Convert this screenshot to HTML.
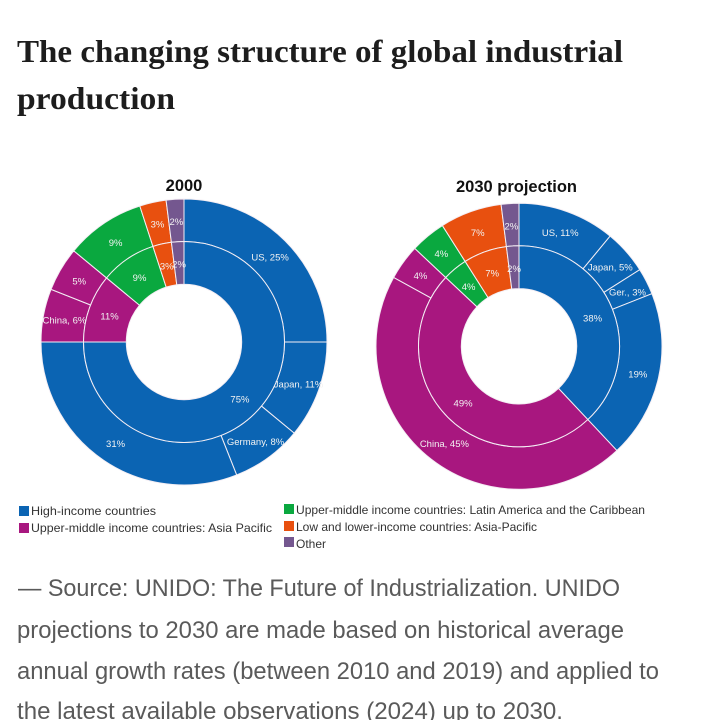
<!DOCTYPE html>
<html lang="en">
<head>
<meta charset="utf-8">
<title>The changing structure of global industrial production</title>
<style>
html,body{margin:0;padding:0;background:#fff;}
body{width:705px;height:720px;overflow:hidden;position:relative;}
svg{position:absolute;left:0;top:0;}
.title{font-family:"Liberation Serif",serif;font-weight:700;font-size:32px;fill:#1d1d1d;}
.chart-title{font-family:"Liberation Sans",sans-serif;font-weight:700;font-size:16.5px;fill:#111;text-anchor:middle;}
.slice-label{font-family:"Liberation Sans",sans-serif;font-size:9.5px;fill:#f2f2f2;text-anchor:middle;}
.legend-text{font-family:"Liberation Sans",sans-serif;font-size:12px;fill:#333;}
.source{font-family:"Liberation Sans",sans-serif;font-size:24px;fill:#5a5a5a;}
</style>
</head>
<body>
<svg id="canvas" width="705" height="720" viewBox="0 0 705 720">
  <text class="title" x="17" y="62" textLength="606" lengthAdjust="spacingAndGlyphs">The changing structure of global industrial</text>
  <text class="title" x="17" y="109" textLength="158" lengthAdjust="spacingAndGlyphs">production</text>

  <text class="chart-title" x="184" y="191">2000</text>
  <text class="chart-title" x="516.5" y="192">2030 projection</text>

  <g id="donut-2000"></g>
  <g id="donut-2030"></g>

  <g>
    <rect x="19" y="506" width="10" height="10" fill="#0b64b3"/>
    <text class="legend-text" x="31" y="515" textLength="125" lengthAdjust="spacingAndGlyphs">High-income countries</text>
    <rect x="19" y="523" width="10" height="10" fill="#a8177f"/>
    <text class="legend-text" x="31" y="532" textLength="241" lengthAdjust="spacingAndGlyphs">Upper-middle income countries: Asia Pacific</text>
    <rect x="284" y="504" width="10" height="10" fill="#0aa83f"/>
    <text class="legend-text" x="296" y="514" textLength="349" lengthAdjust="spacingAndGlyphs">Upper-middle income countries: Latin America and the Caribbean</text>
    <rect x="284" y="521" width="10" height="10" fill="#e8500f"/>
    <text class="legend-text" x="296" y="531" textLength="241" lengthAdjust="spacingAndGlyphs">Low and lower-income countries: Asia-Pacific</text>
    <rect x="284" y="537" width="10" height="10" fill="#74578f"/>
    <text class="legend-text" x="296" y="548" textLength="30" lengthAdjust="spacingAndGlyphs">Other</text>
  </g>

  <g>
    <text class="source" x="18" y="596" textLength="602" lengthAdjust="spacingAndGlyphs">— Source: UNIDO: The Future of Industrialization. UNIDO</text>
    <text class="source" x="17" y="638" textLength="607" lengthAdjust="spacingAndGlyphs">projections to 2030 are made based on historical average</text>
    <text class="source" x="17" y="679" textLength="642" lengthAdjust="spacingAndGlyphs">annual growth rates (between 2010 and 2019) and applied to</text>
    <text class="source" x="17" y="719" textLength="546" lengthAdjust="spacingAndGlyphs">the latest available observations (2024) up to 2030.</text>
  </g>
</svg>
<script>
// Data for the 2000 chart
const outerNames2000 = ['US', 'Japan', 'Germany', '', 'China', '', '', '', ''];
const outerValues2000 = [25, 11, 8, 31, 6, 5, 9, 3, 2];
const outerGroups2000 = ['high', 'high', 'high', 'high', 'asia', 'asia', 'latam', 'low', 'other'];
const innerValues2000 = [75, 11, 9, 3, 2];
const innerGroups2000 = ['high', 'asia', 'latam', 'low', 'other'];

// Data for the 2030 projection chart
const outerNames2030 = ['US', 'Japan', 'Ger.', '', 'China', '', '', '', ''];
const outerValues2030 = [11, 5, 3, 19, 45, 4, 4, 7, 2];
const outerGroups2030 = ['high', 'high', 'high', 'high', 'asia', 'asia', 'latam', 'low', 'other'];
const innerValues2030 = [38, 49, 4, 7, 2];
const innerGroups2030 = ['high', 'asia', 'latam', 'low', 'other'];

const groupColors = {high: '#0b64b3', asia: '#a8177f', latam: '#0aa83f', low: '#e8500f', other: '#74578f'};
const SVG_NS = 'http://www.w3.org/2000/svg';
const R_HOLE = 57.7;
const R_MID = 100.5;
const R_OUTER = 143;

function angleScale(share, total) {
  return (share / total) * 2 * Math.PI;
}
function polar(cx, cy, r, a) {
  return [cx + r * Math.sin(a), cy - r * Math.cos(a)];
}
function wedgePath(cx, cy, r0, r1, a0, a1) {
  const large = a1 - a0 > Math.PI ? 1 : 0;
  const p0 = polar(cx, cy, r1, a0);
  const p1 = polar(cx, cy, r1, a1);
  const p2 = polar(cx, cy, r0, a1);
  const p3 = polar(cx, cy, r0, a0);
  return 'M' + p0[0] + ' ' + p0[1] +
    'A' + r1 + ' ' + r1 + ' 0 ' + large + ' 1 ' + p1[0] + ' ' + p1[1] +
    'L' + p2[0] + ' ' + p2[1] +
    'A' + r0 + ' ' + r0 + ' 0 ' + large + ' 0 ' + p3[0] + ' ' + p3[1] + 'Z';
}
function drawRing(parent, cx, cy, r0, r1, values, groups, names) {
  const total = values.reduce(function (s, v) { return s + v; }, 0);
  let run = 0;
  const labels = [];
  values.forEach(function (v, i) {
    const a0 = angleScale(run, total);
    const a1 = angleScale(run + v, total);
    run += v;
    const path = document.createElementNS(SVG_NS, 'path');
    path.setAttribute('d', wedgePath(cx, cy, r0, r1, a0, a1));
    path.setAttribute('fill', groupColors[groups[i]]);
    path.setAttribute('stroke', '#f4eef4');
    path.setAttribute('stroke-width', '1');
    
    
    parent.appendChild(path);
    const pos = polar(cx, cy, (r0 + r1) / 2, (a0 + a1) / 2);
    const name = names ? names[i] : '';
    labels.push({x: pos[0], y: pos[1], text: (name ? name + ', ' : '') + v + '%'});
  });
  return labels;
}
function drawLabels(parent, labels) {
  labels.forEach(function (item) {
    const t = document.createElementNS(SVG_NS, 'text');
    t.setAttribute('class', 'slice-label');
    t.setAttribute('x', item.x);
    t.setAttribute('y', item.y + 4.5);
    
    
    t.textContent = item.text;
    parent.appendChild(t);
  });
}
function drawDonut(id, cx, cy, outerVals, outerGrp, outerNm, innerVals, innerGrp) {
  const g = document.getElementById(id);
  const a = drawRing(g, cx, cy, R_MID, R_OUTER, outerVals, outerGrp, outerNm);
  const b = drawRing(g, cx, cy, R_HOLE, R_MID, innerVals, innerGrp, null);
  drawLabels(g, a.concat(b));
}
drawDonut('donut-2000', 184, 342, outerValues2000, outerGroups2000, outerNames2000, innerValues2000, innerGroups2000);
drawDonut('donut-2030', 519, 346.3, outerValues2030, outerGroups2030, outerNames2030, innerValues2030, innerGroups2030);
</script>
</body>
</html>
